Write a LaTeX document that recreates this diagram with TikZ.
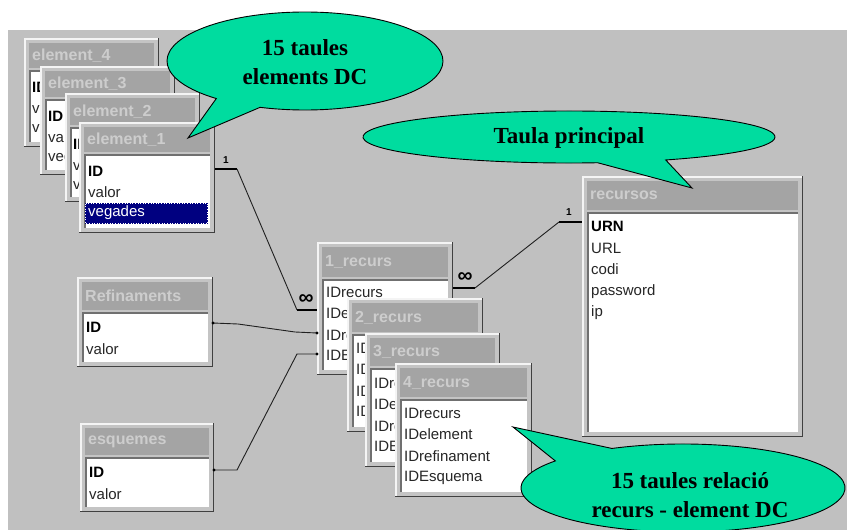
\documentclass[tikz,border=0pt]{standalone}
\usepackage{fontspec}
\setmainfont{Liberation Serif}
\newfontfamily\tabfont{Liberation Sans}
\usetikzlibrary{calc}
\definecolor{bggray}{HTML}{C0C0C0}
\definecolor{facegray}{HTML}{C4C4C4}
\definecolor{hicol}{HTML}{F4F4F4}
\definecolor{shcol}{HTML}{404040}
\definecolor{barcol}{HTML}{A4A4A4}
\definecolor{bartext}{HTML}{CDCDCD}
\definecolor{sunkcol}{HTML}{707070}
\definecolor{callcol}{HTML}{00DC9F}
\definecolor{navysel}{HTML}{000080}
\definecolor{linecol}{HTML}{202020}

% #1 name, #2 x1, #3 y1, #4 x2, #5 y2, #6 title bottom, #7 title
\newcommand\dbtab[7]{%
  \fill[facegray] (#2,#3) rectangle (#4,#5);
  \draw[hicol,line width=1.5] (#2+0.75,#5-1) -- (#2+0.75,#3+0.75) -- (#4-1,#3+0.75);
  \draw[shcol,line width=1.5] (#2,#5-0.75) -- (#4-0.75,#5-0.75) -- (#4-0.75,#3);
  \fill[barcol] (#2+5,#3+5) rectangle (#4-5,#6);
  \node[titletext] (#1title) at (#2+8,{(#3+5+#6)/2}) {#7};
  \fill[white] (#2+5,#6+2) rectangle (#4-5,#5-5);
  \draw[sunkcol,line width=1.5] (#2+5.75,#5-5) -- (#2+5.75,#6+2.75) -- (#4-5,#6+2.75);
}

\begin{document}
\begin{tikzpicture}[x=1pt,y=-1pt,
  titletext/.style={anchor=west,inner sep=0pt,text=bartext,font=\tabfont\bfseries\fontsize{16}{18}\selectfont},
  rowtext/.style={anchor=west,inner sep=0pt,text=black!85,font=\tabfont\fontsize{15}{17}\selectfont},
  rowbold/.style={rowtext,text=black,font=\tabfont\bfseries\fontsize{15}{17}\selectfont},
  connthin/.style={draw=linecol,line width=0.9},
  connthick/.style={draw=black,line width=2.8},
  cardone/.style={inner sep=0pt,font=\tabfont\bfseries\fontsize{10}{10}\selectfont},
  cardinf/.style={inner sep=0pt,font=\tabfont\bfseries\fontsize{21}{21}\selectfont},
  callout/.style={fill=callcol,draw=black,line width=0.9},
  calltext/.style={align=center,inner sep=0pt,font=\bfseries\fontsize{23}{28.5}\selectfont}]
\useasboundingbox (0,0) rectangle (847,530);
\clip (0,0) rectangle (847,530);
\fill[bggray] (8,30) rectangle (847,530);

% ---- element tables ----
\dbtab{e4}{24}{38}{159}{147}{68}{element\_4}
\node[rowbold] (e4a) at (32,87) {ID};
\node[rowtext] (e4b) at (32,108) {valor};
\node[rowtext] (e4c) at (32,129) {vegades};
\dbtab{e3}{40}{66}{175}{175}{97}{element\_3}
\node[rowbold] (e3a) at (48,116) {ID};
\node[rowtext] (e3b) at (48,137) {valor};
\node[rowtext] (e3c) at (48,158) {vegades};
\dbtab{e2}{65}{93}{200}{202}{125}{element\_2}
\node[rowbold] (e2a) at (73,144) {ID};
\node[rowtext] (e2b) at (73,165) {valor};
\node[rowtext] (e2c) at (73,186) {vegades};
\dbtab{e1}{79}{122}{215}{233}{152}{element\_1}
\node[rowbold] (e1a) at (88,171) {ID};
\node[rowtext] (e1b) at (88,192) {valor};
\fill[navysel] (85,203) rectangle (208,224);
\draw[white,dotted,line width=0.6] (85.5,203.5) rectangle (207.5,223.5);
\node[rowtext,text=white] (e1c) at (88,213) {vegades};

% ---- Refinaments / esquemes ----
\dbtab{rf}{77}{277}{213}{367}{310}{Refinaments}
\node[rowbold] (rfa) at (86,327) {ID};
\node[rowtext] (rfb) at (86,349) {valor};
\dbtab{es}{80}{423}{214}{512}{455}{esquemes}
\node[rowbold] (esa) at (89,472) {ID};
\node[rowtext] (esb) at (89,494) {valor};

% ---- recurs tables ----
\dbtab{r1}{317}{242}{453}{375}{277}{1\_recurs}
\node[rowtext] (r1a) at (326,292) {IDrecurs};
\node[rowtext] (r1b) at (326,313.5) {IDelement};
\node[rowtext] (r1c) at (326,335) {IDrefinament};
\node[rowtext] (r1d) at (326,356.5) {IDEsquema};
\dbtab{r2}{347}{298}{483}{432}{332}{2\_recurs}
\node[rowtext] (r2a) at (356,348) {IDrecurs};
\node[rowtext] (r2b) at (356,369.5) {IDelement};
\node[rowtext] (r2c) at (356,391) {IDrefinament};
\node[rowtext] (r2d) at (356,412.5) {IDEsquema};
\dbtab{r3}{365}{333}{500}{467}{366}{3\_recurs}
\node[rowtext] (r3a) at (374,383) {IDrecurs};
\node[rowtext] (r3b) at (374,404.5) {IDelement};
\node[rowtext] (r3c) at (374,426) {IDrefinament};
\node[rowtext] (r3d) at (374,447.5) {IDEsquema};
\dbtab{r4}{395}{363}{532}{497}{397}{4\_recurs}
\node[rowtext] (r4a) at (404,413) {IDrecurs};
\node[rowtext] (r4b) at (404,434.5) {IDelement};
\node[rowtext] (r4c) at (404,456) {IDrefinament};
\node[rowtext] (r4d) at (404,477.5) {IDEsquema};

% ---- recursos ----
\dbtab{rs}{582}{176}{803}{437}{210}{recursos}
\node[rowbold] (rsa) at (591,226) {URN};
\node[rowtext] (rsb) at (591,248) {URL};
\node[rowtext] (rsc) at (591,269.5) {codi};
\node[rowtext] (rsd) at (591,291.5) {password};
\node[rowtext] (rse) at (591,313) {ip};

% ---- connectors ----
\coordinate (e1R) at (215,169);
\coordinate (e1Rk) at (237,169);
\coordinate (r1Lk) at (297,310);
\coordinate (r1L) at (317,310);
\draw[connthick] (e1R) -- (e1Rk);
\draw[connthin] (e1Rk) -- (r1Lk);
\draw[connthick] (r1Lk) -- (r1L);
\node[cardone] (one1) at (226,160) {1};
\node[cardinf] (inf1) at (306,300) {∞};

\coordinate (r1R) at (453,288);
\coordinate (r1Rk) at (475,288);
\coordinate (rsLk) at (559,222);
\coordinate (rsL) at (582,222);
\draw[connthick] (r1R) -- (r1Rk);
\draw[connthin] (r1Rk) -- (rsLk);
\draw[connthick] (rsLk) -- (rsL);
\node[cardinf] (inf2) at (465,278) {∞};
\node[cardone] (one2) at (569,212) {1};

\coordinate (rfR) at (213,323);
\coordinate (rfRk) at (238,324);
\coordinate (r1c1) at (295,332);
\coordinate (r1Lc) at (317,333);
\draw[connthin] (rfR) -- (rfRk) -- (r1c1) -- (r1Lc);
\fill[black] (rfR) circle (1.6) (r1Lc) circle (1.6);

\coordinate (esR) at (214,470);
\coordinate (esRk) at (237,470);
\coordinate (r1d1) at (297,354);
\coordinate (r1Ld) at (317,354);
\draw[connthin] (esR) -- (esRk) -- (r1d1) -- (r1Ld);
\fill[black] (esR) circle (1.6) (r1Ld) circle (1.6);

% ---- callouts ----
\coordinate (c1) at (305,61);
\coordinate (t1) at (188,138);
\filldraw[callout] ($(c1)+(130:138 and 49)$) arc[start angle=130,end angle=469,x radius=138,y radius=49] -- (t1) -- cycle;
\node[calltext] (ct1) at (305,62) {15 taules\\elements DC};

\coordinate (c2) at (569,137);
\coordinate (t2) at (692,188);
\filldraw[callout] ($(c2)+(82:206 and 26)$) arc[start angle=82,end angle=422,x radius=206,y radius=26] -- (t2) -- cycle;
\node[calltext] (ct2) at (569,138) {Taula principal};

\coordinate (c3) at (683,488);
\coordinate (t3) at (513,427);
\filldraw[callout] ($(c3)+(244:162 and 44)$) arc[start angle=244,end angle=578,x radius=162,y radius=44] -- (t3) -- cycle;
\node[calltext] (ct3) at (690,495) {15 taules relació\\recurs - element DC};
\end{tikzpicture}
\end{document}
